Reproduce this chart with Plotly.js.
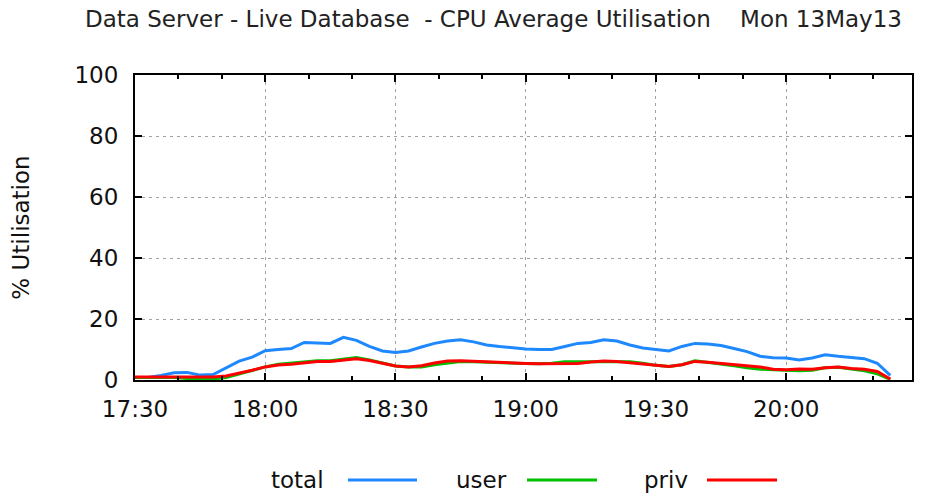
<!DOCTYPE html>
<html><head><meta charset="utf-8">
<script src="https://cdn.plot.ly/plotly-3.0.1.min.js"></script>
<style>html,body{margin:0;padding:0;background:#fff}#chart{width:926px;height:493px}</style>
</head><body><div id="chart"></div>
<script>
const sampleTimes = ["17:30","17:33","17:36","17:39","17:42","17:45","17:48","17:51","17:54","17:57",
 "18:00","18:03","18:06","18:09","18:12","18:15","18:18","18:21","18:24","18:27",
 "18:30","18:33","18:36","18:39","18:42","18:45","18:48","18:51","18:54","18:57",
 "19:00","19:03","19:06","19:09","19:12","19:15","19:18","19:21","19:24","19:27",
 "19:30","19:33","19:36","19:39","19:42","19:45","19:48","19:51","19:54","19:57",
 "20:00","20:03","20:06","20:09","20:12","20:15","20:18","20:21","20:24"];
const totalVals = [0.8,0.8,1.5,2.4,2.5,1.6,1.8,4,6.2,7.5,
 9.6,10,10.3,12.3,12.2,12,14,13,11,9.5,
 9,9.5,10.8,12,12.8,13.2,12.5,11.5,11,10.5,
 10.2,10,10,11,12,12.3,13.2,12.8,11.5,10.5,
 10,9.5,11,12,11.8,11.3,10.3,9.3,7.8,7.3,
 7.2,6.6,7.2,8.3,7.8,7.5,7,5.5,1.5];
const userVals = [0.8,0.8,0.8,0.8,0.5,0.3,0.3,0.8,2,3,
 4.3,5.2,5.5,5.8,6.3,6.3,6.8,7.4,6.6,5.5,
 4.6,4.3,4.3,5,5.6,6.1,6,5.8,5.6,5.5,
 5.4,5.3,5.5,6,6,6.1,6.2,6,6,5.5,
 4.8,4.4,5,6.3,5.8,5.2,4.7,4,3.5,3.4,
 3.2,3,3.2,4,4.2,3.6,3,2,0.2];
const privVals = [1,1,1,1,1,1,1,1.3,2.2,3.2,
 4.3,4.9,5.2,5.7,6.1,6.1,6.6,7,6.4,5.5,
 4.6,4.3,4.7,5.6,6.2,6.3,6.1,5.8,5.6,5.5,
 5.4,5.3,5.3,5.3,5.4,5.9,6.2,6.1,5.7,5.1,
 4.8,4.4,5,6.1,5.8,5.4,5,4.6,4.3,3.5,
 3.4,3.6,3.5,4,4.3,3.8,3.5,2.8,0.3];
const seriesNames = ["total","user","priv"];
const seriesColors = ["#1e88ff","#00c000","#ff0000"];
const yTicks = [0,20,40,60,80,100];
const titleText = "Data Server - Live Database\u00A0\u00A0- CPU Average Utilisation\u00A0\u00A0\u00A0\u00A0Mon 13May13";
const day = "2013-05-13 ";
const xs = sampleTimes.map(t => day + t);
const vals = [totalVals, userVals, privVals];
const traces = seriesNames.map((n,i)=>({
  x: xs, y: vals[i], name: n, type: 'scatter', mode: 'lines',
  line: {color: seriesColors[i], width: 3}, showlegend: false
}));
const L = 135, W = 777, T = 75, H = 305;
const legendX = [[269,348,417],[454,527,597],[642,707,777]];
const legendY = 480;
const px = x => (x - L) / W;
const py = y => (T + H - y) / H;
const annotations = [], shapes = [];
legendX.forEach((p,i)=>{
  annotations.push({xref:'paper', yref:'paper', x:px(p[0]), y:py(legendY), xanchor:'left', yanchor:'middle',
    text: seriesNames[i], showarrow:false, font:{family:'DejaVu Sans', size:23, color:'#111'}});
  shapes.push({type:'line', xref:'paper', yref:'paper', x0:px(p[1]), x1:px(p[2]), y0:py(legendY), y1:py(legendY),
    line:{color:seriesColors[i], width:3}});
});
const layout = {
  width: 926, height: 493,
  margin: {l: L, r: 926 - L - W, t: T, b: 493 - T - H, pad: 0},
  paper_bgcolor: '#fff', plot_bgcolor: '#fff',
  font: {family: 'DejaVu Sans', size: 23, color: '#111'},
  title: {text: titleText,
    font: {family: 'DejaVu Sans', size: 23, color: '#222'},
    x: 85/926, xanchor: 'left', xref: 'container', y: 1 - 19/493, yanchor: 'middle', yref: 'container'},
  xaxis: {type: 'date', range: [day + '17:30', day + '20:29'], tickformat: '%H:%M',
    tick0: day + '17:30', dtick: 1800000, ticks: 'inside', ticklen: 7, tickwidth: 2, tickcolor: '#000',
    minor: {dtick: 600000, ticks: 'inside', ticklen: 4, tickwidth: 2, tickcolor: '#000', showgrid: false},
    showline: true, linecolor: '#000', linewidth: 2, mirror: 'ticks',
    showgrid: true, gridcolor: '#a0a0a0', gridwidth: 1, griddash: '3px,4px', zeroline: false,
    ticklabelstandoff: 7, automargin: false, fixedrange: true},
  yaxis: {range: [0, 100], tickvals: yTicks, ticks: 'inside', ticklen: 7, tickwidth: 2, tickcolor: '#000',
    showline: true, linecolor: '#000', linewidth: 2, mirror: 'ticks',
    showgrid: true, gridcolor: '#a0a0a0', gridwidth: 1, griddash: '3px,4px', zeroline: false,
    ticklabelstandoff: 10, automargin: false, fixedrange: true,
    title: {text: '% Utilisation', font: {family: 'DejaVu Sans', size: 23, color: '#111'}, standoff: 38}},
  annotations: annotations, shapes: shapes, showlegend: false
};
Plotly.newPlot('chart', traces, layout, {staticPlot: true, displayModeBar: false});
</script></body></html>
